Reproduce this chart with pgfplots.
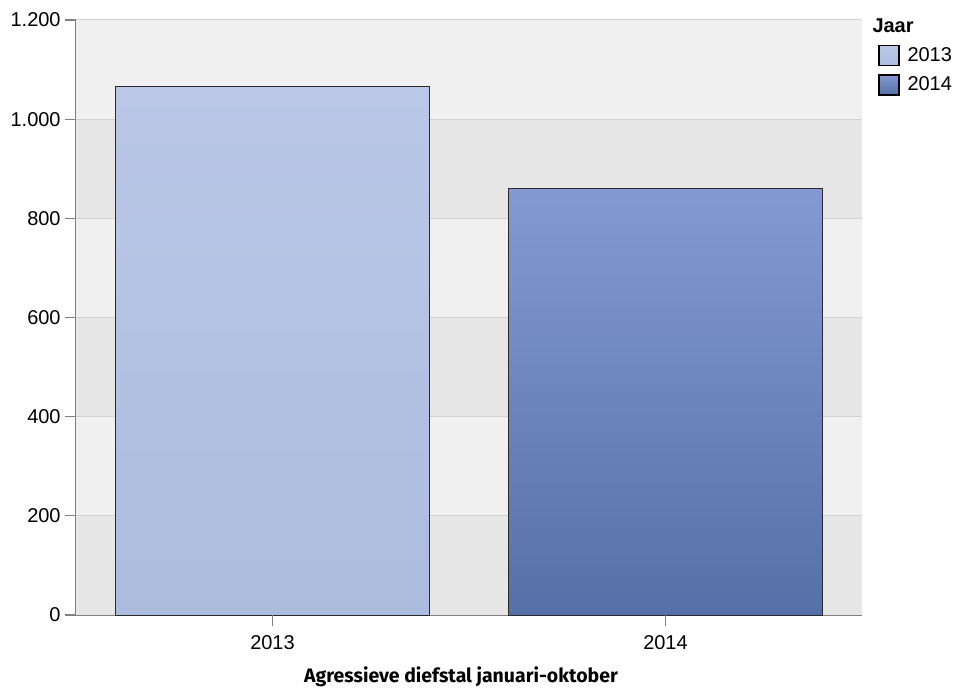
\documentclass[border=0pt]{standalone}
\usepackage{fontspec}
\setmainfont{Liberation Sans}
\newfontfamily\xlabfont{Fira Sans}
\usepackage{pgfplots}
\pgfplotsset{compat=1.18}
\definecolor{bandA}{HTML}{E6E6E6}
\definecolor{bandB}{HTML}{F0F0F0}
\definecolor{gridc}{HTML}{D2D2D2}
\definecolor{axisc}{HTML}{808080}
\definecolor{barline}{HTML}{2A2A2A}
\definecolor{cAtop}{HTML}{BAC7E7}
\definecolor{cAbot}{HTML}{ACBCDF}
\definecolor{cBtop}{HTML}{8499D1}
\definecolor{cBbot}{HTML}{5570A8}
\begin{document}
\begin{tikzpicture}
\useasboundingbox (-57pt,-56.25pt) rectangle (663.75pt,461.25pt);
\begin{axis}[
  name=ax,
  at={(0,0)}, anchor=south west,
  scale only axis, width=589.5pt, height=446.25pt,
  xmin=-0.5, xmax=1.5, ymin=0, ymax=1200,
  xtick={0,1}, xticklabels={2013,2014},
  ytick={0,200,400,600,800,1000,1200},
  axis x line*=bottom, axis y line*=left,
  axis line style={draw=axisc, line width=0.75pt, -},
  xtick align=outside, ytick align=outside,
  major tick length=8pt,
  every major tick/.append style={draw=axisc, line width=0.75pt},
  /pgf/number format/.cd, 1000 sep={.}, assume math mode=true, /pgfplots/.cd,
  ticklabel style={font=\fontsize{15}{18}\selectfont},
  xticklabel style={yshift=-4pt},
  xlabel={\xlabfont\bfseries Agressieve diefstal januari-oktober},
  xlabel style={font=\fontsize{14.6}{18}\selectfont, at={(axis description cs:0.5,0)}, anchor=center, yshift=-46.5pt, xshift=-6pt},
  legend style={at={(axis description cs:1,1)}, anchor=north west, xshift=12pt, yshift=3.5pt,
    draw=none, fill=none, font=\fontsize{15}{18}\selectfont, row sep=6pt, inner sep=0pt},
  legend cell align=left,
  legend image code/.code={\draw[#1, draw=black, line width=1.1pt] (0pt,-7.5pt) rectangle (15pt,7.5pt); \path (19pt,0pt);},
  clip=false,
]
\addlegendimage{empty legend}
\addlegendentry{\hspace*{-26.25pt}\textbf{Jaar}}
\fill[bandA] (axis cs:-0.5,0) rectangle (axis cs:1.5,200);
\fill[bandB] (axis cs:-0.5,200) rectangle (axis cs:1.5,400);
\fill[bandA] (axis cs:-0.5,400) rectangle (axis cs:1.5,600);
\fill[bandB] (axis cs:-0.5,600) rectangle (axis cs:1.5,800);
\fill[bandA] (axis cs:-0.5,800) rectangle (axis cs:1.5,1000);
\fill[bandB] (axis cs:-0.5,1000) rectangle (axis cs:1.5,1200);
\foreach \v in {200,400,600,800,1000,1200}{
  \edef\tmp{\noexpand\draw[gridc, line width=0.75pt] (axis cs:-0.5,\v) -- (axis cs:1.5,\v);}\tmp
}
\addplot[ybar, bar width=0.8, bar shift=0pt, draw=barline, line width=0.75pt,
  top color=cAtop, bottom color=cAbot] coordinates {(0,1065)};
\addlegendentry{2013}
\addplot[ybar, bar width=0.8, bar shift=0pt, draw=barline, line width=0.75pt,
  top color=cBtop, bottom color=cBbot] coordinates {(1,861)};
\addlegendentry{2014}
\end{axis}
% outward tick marks along the axis frame
\foreach \i in {0,1,2,3,4,5,6}{
  \draw[draw=axisc, line width=0.8pt] (0pt,\i*74.375pt) -- (-8pt,\i*74.375pt);
}
\draw[draw=axisc, line width=0.8pt] (147.375pt,0pt) -- (147.375pt,-8pt);
\draw[draw=axisc, line width=0.8pt] (442.125pt,0pt) -- (442.125pt,-8pt);
\end{tikzpicture}
\end{document}
